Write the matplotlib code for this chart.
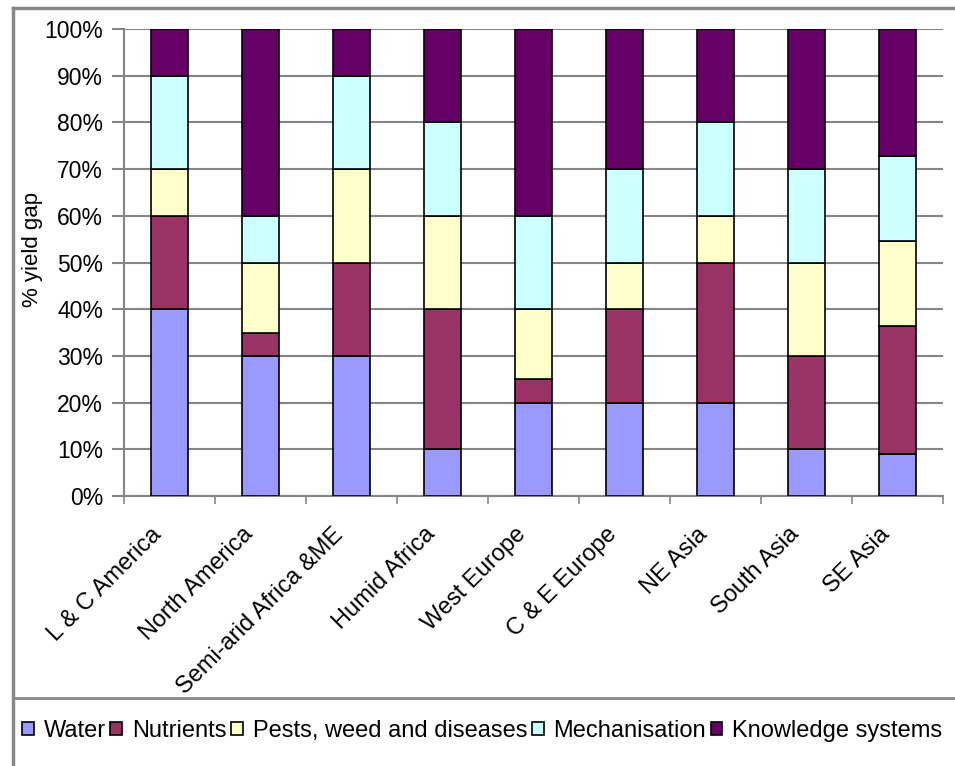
import matplotlib.pyplot as plt
import matplotlib.transforms as mtransforms
import numpy as np
from matplotlib.lines import Line2D
from matplotlib.patches import Patch
from matplotlib.ticker import FixedLocator, PercentFormatter

regions = [
    "L & C America",
    "North America",
    "Semi-arid Africa &ME",
    "Humid Africa",
    "West Europe",
    "C & E Europe",
    "NE Asia",
    "South Asia",
    "SE Asia",
]
factors = [
    "Water",
    "Nutrients",
    "Pests, weed and diseases",
    "Mechanisation",
    "Knowledge systems",
]
water = [40, 30, 30, 10, 20, 20, 20, 10, 9.1]
nutrients = [20, 5, 20, 30, 5, 20, 30, 20, 27.3]
pests = [10, 15, 20, 20, 15, 10, 10, 20, 18.2]
mechanisation = [20, 10, 20, 20, 20, 20, 20, 20, 18.2]
knowledge = [10, 40, 10, 20, 40, 30, 20, 30, 27.3]
colors = ["#9999ff", "#993366", "#ffffcc", "#ccffff", "#660066"]

plt.rcParams["font.family"] = ["Liberation Sans", "DejaVu Sans"]

W, H = 955, 766
fig = plt.figure(figsize=(W / 100, H / 100), dpi=100)


def fx(px):
    return px / W


def fy(py):
    return 1 - py / H


ax = fig.add_axes([fx(124), fy(496), fx(943) - fx(124), fy(29) - fy(496)])

values = np.array([water, nutrients, pests, mechanisation, knowledge], dtype=float)
shares = values / values.sum(axis=0) * 100
x = np.arange(len(regions))
bottom = np.zeros(len(regions))
for share, color, name in zip(shares, colors, factors):
    ax.bar(x, share, width=0.405, bottom=bottom, color=color,
           edgecolor="black", linewidth=1.2, label=name, zorder=3)
    bottom += share

ax.set_xlim(-0.5, len(regions) - 0.5)
ax.set_ylim(0, 100)
ax.set_yticks(np.arange(0, 101, 10))
ax.yaxis.set_major_formatter(PercentFormatter(decimals=0))
ax.grid(axis="y", color="#858585", linewidth=1.5, zorder=0)
ax.set_axisbelow(True)

# labels at the bar centres, small ticks between the categories
ax.set_xticks(x)
ax.set_xticklabels(regions, rotation=45, ha="right", va="top",
                   rotation_mode="anchor", fontsize=17)
ax.tick_params(axis="x", length=0, pad=14)
shift = mtransforms.ScaledTranslation(-0.19, -0.08, fig.dpi_scale_trans)
for label in ax.get_xticklabels():
    label.set_transform(label.get_transform() + shift)
ax.xaxis.set_minor_locator(FixedLocator(np.arange(-0.5, len(regions), 1.0)))
ax.tick_params(axis="x", which="minor", length=6, width=1.2, color="#858585")
ax.tick_params(axis="y", length=9, width=1.5, color="#858585",
               labelsize=16.5, pad=6)

for side in ("top", "right"):
    ax.spines[side].set_visible(False)
for side in ("left", "bottom"):
    ax.spines[side].set_color("#858585")
    ax.spines[side].set_linewidth(1.5)

ax.set_ylabel("% yield gap", fontsize=16)
ax.yaxis.set_label_coords(-0.099, 0.527)

# chart frame and legend divider
frame = "#888888"
fig.add_artist(Line2D([fx(13), fx(13)], [fy(8), 0], color=frame, lw=2.5))
fig.add_artist(Line2D([fx(13), 1], [fy(8), fy(8)], color=frame, lw=2.5))
fig.add_artist(Line2D([fx(13), 1], [fy(698), fy(698)], color=frame, lw=2))

handles = [Patch(facecolor=c, edgecolor="black", linewidth=1.2) for c in colors]
fig.legend(handles, factors, loc="center left",
           bbox_to_anchor=(fx(22), fy(731)), ncol=5, frameon=False,
           fontsize=17, handlelength=0.5, handleheight=0.5,
           handletextpad=0.41, columnspacing=0.2, borderaxespad=0,
           borderpad=0)

fig.savefig("out.png", dpi=100)
